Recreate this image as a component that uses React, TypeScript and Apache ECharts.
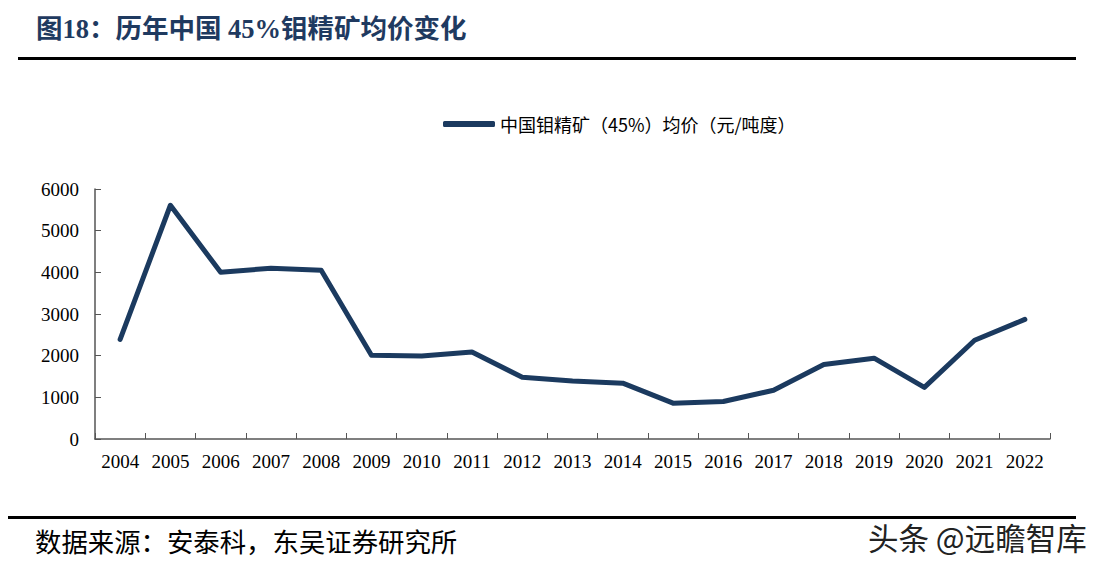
import React, { useEffect, useRef } from "react";
import * as echarts from "echarts";

const years = ["2004","2005","2006","2007","2008","2009","2010","2011","2012","2013","2014","2015","2016","2017","2018","2019","2020","2021","2022"];
const prices = [2390, 5610, 4000, 4100, 4050, 2010, 1990, 2090, 1480, 1390, 1340, 860, 900, 1170, 1790, 1940, 1240, 2370, 2870];
const seriesName = "中国钼精矿（45%）均价（元/吨度）";
const titleText = "图18：历年中国 45%钼精矿均价变化";
const sourceText = "数据来源：安泰科，东吴证券研究所";
const watermarkText = "头条 @远瞻智库";

export default function App() {
  const ref = useRef<HTMLDivElement>(null);
  useEffect(() => {
    if (!ref.current) return;
    const chart = echarts.init(ref.current, undefined, { renderer: "svg" });
    const serif = "'Liberation Serif', 'Times New Roman', 'Noto Sans CJK SC', serif";
    chart.setOption({
      animation: false,
      backgroundColor: "#ffffff",
      grid: { left: 95, right: 58, top: 189, bottom: 128, containLabel: false },
      legend: {
        data: [seriesName],
        top: 110,
        left: 438,
        itemWidth: 52,
        itemHeight: 6,
        itemGap: 6,
        icon: "roundRect",
        textStyle: { fontSize: 18, color: "#000", fontFamily: "'Noto Sans CJK SC', sans-serif" },
      },
      xAxis: {
        type: "category",
        data: years,
        boundaryGap: true,
        axisLine: { lineStyle: { color: "#555", width: 1.5 } },
        axisTick: { show: true, inside: true, length: 6, lineStyle: { color: "#555" } },
        axisLabel: { color: "#000", fontSize: 19, fontFamily: serif, margin: 13, interval: 0 },
      },
      yAxis: {
        type: "value",
        min: 0,
        max: 6000,
        interval: 1000,
        splitLine: { show: false },
        axisLine: { show: true, lineStyle: { color: "#555", width: 1.5 } },
        axisTick: { show: true, inside: true, length: 6, lineStyle: { color: "#555" } },
        axisLabel: {
          color: "#000",
          fontSize: 19,
          fontFamily: serif,
          margin: 16,
          formatter: (v: number) => String(v),
        },
      },
      series: [
        {
          name: seriesName,
          type: "line",
          data: prices,
          symbol: "none",
          lineStyle: { color: "#1b3a5f", width: 5, cap: "round", join: "round" },
          itemStyle: { color: "#1b3a5f" },
        },
      ],
      graphic: [
        {
          type: "text",
          left: 36,
          top: 16,
          style: {
            text: titleText,
            fill: "#1f3a60",
            font: "bold 26.5px 'Liberation Serif', 'Noto Sans CJK SC', serif",
          },
        },
        {
          type: "rect",
          shape: { x: 18, y: 57, width: 1058, height: 3 },
          style: { fill: "#000" },
        },
        {
          type: "rect",
          shape: { x: 8, y: 516, width: 1068, height: 3 },
          style: { fill: "#000" },
        },
        {
          type: "text",
          left: 35,
          top: 527,
          style: {
            text: sourceText,
            fill: "#000",
            font: "26.4px 'Noto Sans CJK SC', sans-serif",
          },
        },
        {
          type: "text",
          left: 868,
          top: 522,
          style: {
            text: watermarkText,
            fill: "#222",
            font: "30.5px 'Noto Sans CJK SC', sans-serif",
          },
        },
      ],
    });
    return () => chart.dispose();
  }, []);
  return (
    <div
      ref={ref}
      style={{ position: "fixed", left: 0, top: 0, width: 1108, height: 567, background: "#fff" }}
    />
  );
}
